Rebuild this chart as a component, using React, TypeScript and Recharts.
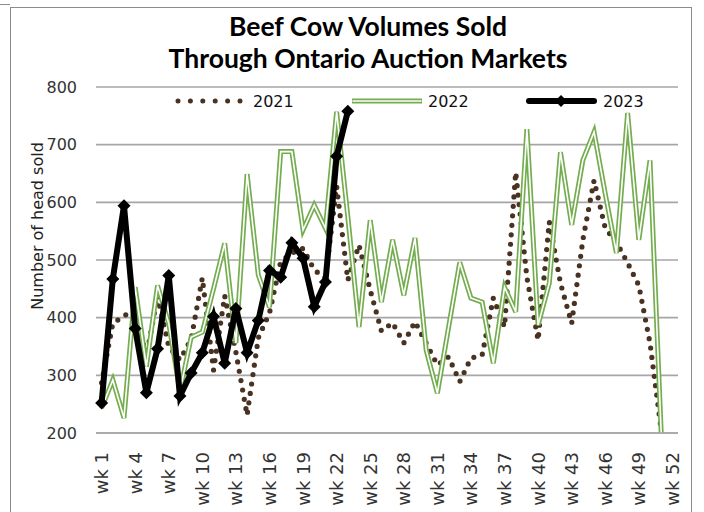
import React from "react";
import { CartesianGrid, Line, LineChart, XAxis, YAxis } from "recharts";

const weeks = [
  "wk 1", "wk 2", "wk 3", "wk 4", "wk 5", "wk 6", "wk 7", "wk 8", "wk 9", "wk 10",
  "wk 11", "wk 12", "wk 13", "wk 14", "wk 15", "wk 16", "wk 17", "wk 18", "wk 19", "wk 20",
  "wk 21", "wk 22", "wk 23", "wk 24", "wk 25", "wk 26", "wk 27", "wk 28", "wk 29", "wk 30",
  "wk 31", "wk 32", "wk 33", "wk 34", "wk 35", "wk 36", "wk 37", "wk 38", "wk 39", "wk 40",
  "wk 41", "wk 42", "wk 43", "wk 44", "wk 45", "wk 46", "wk 47", "wk 48", "wk 49", "wk 50",
  "wk 51", "wk 52",
];

// head sold per week
const sold2021 = [
  287, 390, 403, 415, 332, 438, 350, 327, 363, 469,
  309, 438, 340, 231, 365, 408, 497, 512, 520, 483,
  468, 628, 465, 526, 448, 377, 391, 356, 393, 356,
  318, 332, 289, 330, 335, 434, 384, 652, 470, 361,
  566, 460, 390, 535, 638, 555, 531, 495, 456, 356,
  205, null,
];
const sold2022 = [
  243, 292, 226, 453, 315, 456, 390, 272, 366, 375,
  450, 529, 356, 649, 474, 418, 688, 688, 552, 595,
  555, 757, 575, 384, 569, 427, 535, 439, 538, 344,
  269, 383, 496, 434, 427, 321, 453, 410, 727, 387,
  460, 687, 561, 673, 722, 615, 512, 755, 535, 673,
  200, null,
];
const sold2023 = [
  252, 467, 594, 381, 270, 346, 473, 264, 304, 339,
  402, 321, 416, 339, 395, 482, 470, 530, 503, 419,
  462, 680, 758,
];

const yTicks = [200, 300, 400, 500, 600, 700, 800];

const rows = weeks.map((week, i) => ({
  week,
  y2021: sold2021[i] ?? null,
  y2022: sold2022[i] ?? null,
  y2023: sold2023[i] ?? null,
}));

const GREEN = "#74ad4f";
const BROWN = "#4a3222";
const GRID = "#a6a6a6";

function WeekTick({ x, y, payload }) {
  return (
    <text
      x={x}
      y={y}
      transform={`rotate(-90 ${x} ${y})`}
      textAnchor="end"
      dy="0.36em"
      fontSize={18}
      fontFamily="DejaVu Sans"
      fill="#333"
    >
      {payload.value}
    </text>
  );
}

function Diamond(props) {
  const { cx, cy, index } = props;
  if (cx == null || cy == null) return <g key={`d${index}`} />;
  const r = 6.5;
  return (
    <polygon
      key={`d${index}`}
      points={`${cx},${cy - r} ${cx + r},${cy} ${cx},${cy + r} ${cx - r},${cy}`}
      fill="#000"
    />
  );
}

function LegendBox() {
  const y = 101;
  const txt = { fontFamily: "DejaVu Sans", fontSize: 16, fill: "#111" };
  return (
    <svg width={704} height={30} style={{ position: "absolute", left: 0, top: y - 15 }}>
      <g transform="translate(0,15)">
        <line x1={178} x2={240} y1={0} y2={0} stroke={BROWN} strokeWidth={5}
          strokeDasharray="0 12.4" strokeLinecap="round" />
        <text x={253} y={0} dy="0.36em" {...txt}>2021</text>
        <line x1={352} x2={422} y1={0} y2={0} stroke={GREEN} strokeWidth={5} />
        <line x1={352.5} x2={421.5} y1={0} y2={0} stroke="#fff" strokeWidth={1.6} />
        <text x={428} y={0} dy="0.36em" {...txt}>2022</text>
        <line x1={529} x2={594} y1={0} y2={0} stroke="#000" strokeWidth={6} strokeLinecap="round" />
        <polygon points="561,-6 567,0 561,6 555,0" fill="#000" />
        <text x={603} y={0} dy="0.36em" {...txt}>2023</text>
      </g>
    </svg>
  );
}

export default function App() {
  return (
    <div style={{ position: "absolute", left: 0, top: 0, width: 704, height: 512, background: "#fff", overflow: "hidden" }}>
      <div style={{ position: "absolute", left: 10, top: 7, width: 680, height: 520, border: "1px solid #8c8c8c" }} />
      <div style={{ position: "absolute", left: 0, top: 4, width: 10, height: 1, background: "#8c8c8c" }} />
      <div
        style={{
          position: "absolute",
          left: 168,
          top: 10,
          width: 400,
          textAlign: "center",
          fontFamily: "Lato",
          fontWeight: 700,
          fontSize: 26.5,
          lineHeight: "32px",
          color: "#000",
        }}
      >
        Beef Cow Volumes Sold
        <br />
        Through Ontario Auction Markets
      </div>
      <div style={{ position: "absolute", left: 0, top: 0 }}>
        <LineChart width={704} height={512} data={rows} margin={{ top: 87, right: 26, bottom: 0, left: 0 }}>
          <CartesianGrid vertical={false} stroke={GRID} strokeWidth={1.6} />
          <XAxis
            dataKey="week"
            interval={2}
            height={79}
            padding={{ left: 5.6, right: 5.6 }}
            axisLine={{ stroke: GRID, strokeWidth: 1.6 }}
            tickLine={false}
            tickMargin={13}
            tick={<WeekTick />}
          />
          <YAxis
            width={96}
            domain={[200, 800]}
            ticks={yTicks}
            allowDataOverflow
            axisLine={false}
            tickLine={false}
            tickMargin={13}
            tick={{ fontSize: 16, fontFamily: "DejaVu Sans", fill: "#333" }}
            label={{
              content: () => (
                <text
                  x={37}
                  y={226}
                  transform="rotate(-90 37 226)"
                  textAnchor="middle"
                  dy="0.36em"
                  fontSize={16}
                  fontFamily="DejaVu Sans"
                  fill="#222"
                >
                  Number of head sold
                </text>
              ),
            }}
          />
          <Line
            dataKey="y2021"
            stroke={BROWN}
            strokeWidth={5.2}
            strokeDasharray="0 9.5"
            strokeLinecap="round"
            dot={false}
            activeDot={false}
            isAnimationActive={false}
          />
          <Line dataKey="y2022" stroke={GREEN} strokeWidth={5} dot={false} activeDot={false} isAnimationActive={false} />
          <Line dataKey="y2022" stroke="#fff" strokeWidth={1.6} dot={false} activeDot={false} legendType="none" isAnimationActive={false} />
          <Line
            dataKey="y2023"
            stroke="#000"
            strokeWidth={6}
            dot={(p) => <Diamond key={`d${p.index}`} {...p} />}
            activeDot={false}
            isAnimationActive={false}
          />
        </LineChart>
      </div>
      <LegendBox />
    </div>
  );
}
